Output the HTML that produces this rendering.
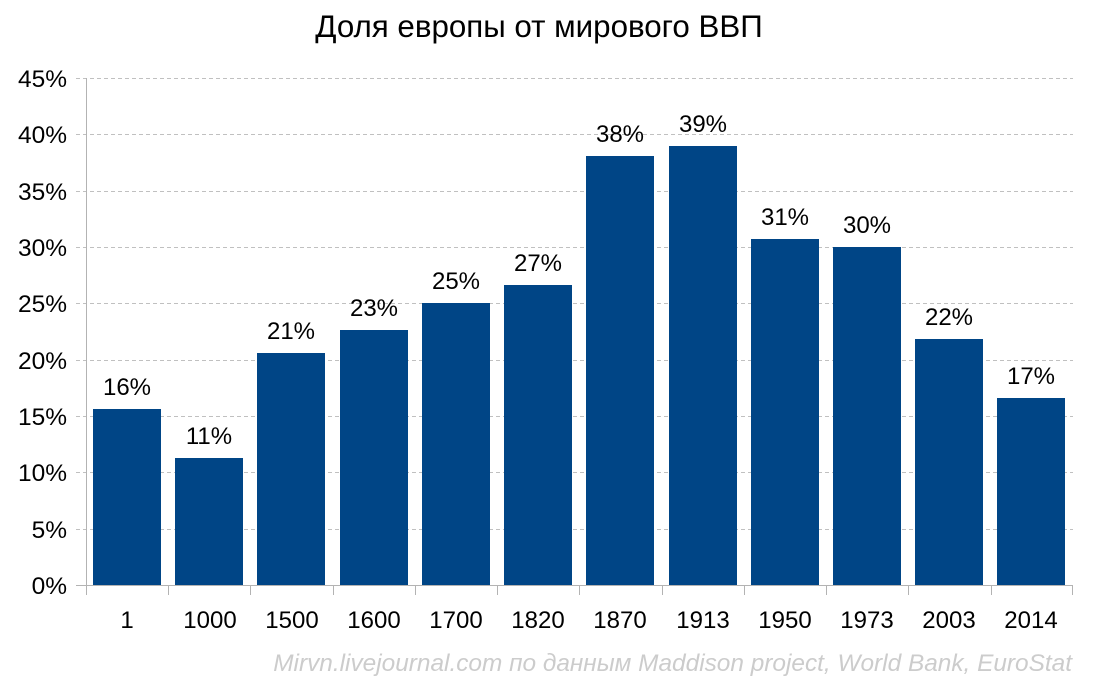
<!DOCTYPE html>
<html><head><meta charset="utf-8"><style>
body{margin:0;background:#fff}
svg{display:block;font-family:"Liberation Sans","DejaVu Sans",sans-serif}
</style></head><body>
<svg width="1097" height="699" viewBox="0 0 1097 699">
<text x="539" y="37" font-size="31.3" text-anchor="middle" fill="#000">Доля европы от мирового ВВП</text>
<g stroke="#c0c0c0" stroke-width="1" stroke-dasharray="4,3">
<line x1="76" y1="78.5" x2="1073" y2="78.5"/>
<line x1="76" y1="134.5" x2="1073" y2="134.5"/>
<line x1="76" y1="191.5" x2="1073" y2="191.5"/>
<line x1="76" y1="247.5" x2="1073" y2="247.5"/>
<line x1="76" y1="303.5" x2="1073" y2="303.5"/>
<line x1="76" y1="360.5" x2="1073" y2="360.5"/>
<line x1="76" y1="416.5" x2="1073" y2="416.5"/>
<line x1="76" y1="472.5" x2="1073" y2="472.5"/>
<line x1="76" y1="529.5" x2="1073" y2="529.5"/>
</g>
<g fill="#004586">
<rect x="93" y="409" width="68" height="176"/>
<rect x="175" y="458" width="68" height="127"/>
<rect x="257" y="353" width="68" height="232"/>
<rect x="340" y="330" width="68" height="255"/>
<rect x="422" y="303" width="68" height="282"/>
<rect x="504" y="285" width="68" height="300"/>
<rect x="586" y="156" width="68" height="429"/>
<rect x="669" y="146" width="68" height="439"/>
<rect x="751" y="239" width="68" height="346"/>
<rect x="833" y="247" width="68" height="338"/>
<rect x="915" y="339" width="68" height="246"/>
<rect x="997" y="398" width="68" height="187"/>
</g>
<g stroke="#b3b3b3" stroke-width="1">
<line x1="86.5" y1="78" x2="86.5" y2="595"/>
<line x1="76" y1="585.5" x2="1073" y2="585.5"/>
<line x1="168.5" y1="585" x2="168.5" y2="595"/>
<line x1="250.5" y1="585" x2="250.5" y2="595"/>
<line x1="333.5" y1="585" x2="333.5" y2="595"/>
<line x1="415.5" y1="585" x2="415.5" y2="595"/>
<line x1="497.5" y1="585" x2="497.5" y2="595"/>
<line x1="579.5" y1="585" x2="579.5" y2="595"/>
<line x1="662.5" y1="585" x2="662.5" y2="595"/>
<line x1="744.5" y1="585" x2="744.5" y2="595"/>
<line x1="826.5" y1="585" x2="826.5" y2="595"/>
<line x1="908.5" y1="585" x2="908.5" y2="595"/>
<line x1="991.5" y1="585" x2="991.5" y2="595"/>
<line x1="1072.5" y1="585" x2="1072.5" y2="595"/>
</g>
<g font-size="24.5" text-anchor="end" fill="#000">
<text x="67" y="87">45%</text><text x="67" y="143">40%</text><text x="67" y="200">35%</text>
<text x="67" y="256">30%</text><text x="67" y="312">25%</text><text x="67" y="369">20%</text>
<text x="67" y="425">15%</text><text x="67" y="481">10%</text><text x="67" y="538">5%</text>
<text x="67" y="594">0%</text>
</g>
<g font-size="24" text-anchor="middle" fill="#000">
<text x="127" y="628">1</text><text x="210" y="628">1000</text><text x="292" y="628">1500</text>
<text x="374" y="628">1600</text><text x="456" y="628">1700</text><text x="538" y="628">1820</text>
<text x="620" y="628">1870</text><text x="703" y="628">1913</text><text x="785" y="628">1950</text>
<text x="867" y="628">1973</text><text x="949" y="628">2003</text><text x="1031" y="628">2014</text>
<text x="127" y="395">16%</text><text x="209" y="444">11%</text><text x="291" y="339">21%</text>
<text x="374" y="316">23%</text><text x="456" y="289">25%</text><text x="538" y="271">27%</text>
<text x="620" y="142">38%</text><text x="703" y="132">39%</text><text x="785" y="225">31%</text>
<text x="867" y="233">30%</text><text x="949" y="325">22%</text><text x="1031" y="384">17%</text>
</g>
<text x="1072" y="671" font-size="24.4" font-style="italic" text-anchor="end" fill="#cccccc">Mirvn.livejournal.com по данным Maddison project, World Bank, EuroStat</text>
</svg>
</body></html>
